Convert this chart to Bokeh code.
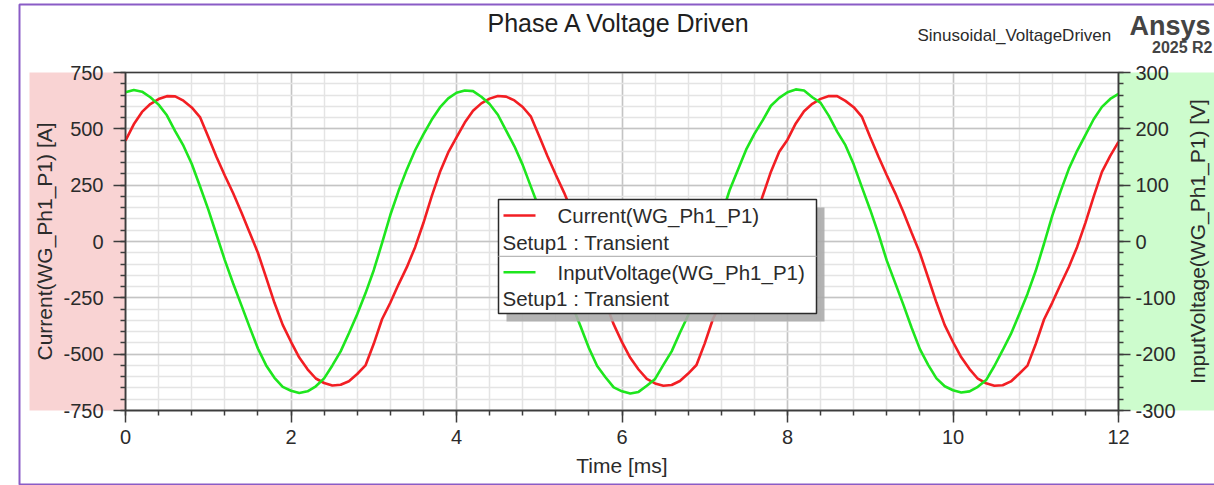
import math
from bokeh.plotting import figure
from bokeh.models import (Range1d, LinearAxis, SingleIntervalTicker, BoxAnnotation,
                          Label, ColumnDataSource, PrintfTickFormatter, Grid)
from bokeh.embed import file_html
from bokeh.resources import INLINE

# ---------------- data ----------------
time_ms = [0.0, 0.1, 0.2, 0.3, 0.4, 0.5, 0.6, 0.7, 0.8, 0.9,
           1.0, 1.1, 1.2, 1.3, 1.4, 1.5, 1.6, 1.7, 1.8, 1.9,
           2.0, 2.1, 2.2, 2.3, 2.4, 2.5, 2.6, 2.7, 2.8, 2.9,
           3.0, 3.1, 3.2, 3.3, 3.4, 3.5, 3.6, 3.7, 3.8, 3.9,
           4.0, 4.1, 4.2, 4.3, 4.4, 4.5, 4.6, 4.7, 4.8, 4.9,
           5.0, 5.1, 5.2, 5.3, 5.4, 5.5, 5.6, 5.7, 5.8, 5.9,
           6.0, 6.1, 6.2, 6.3, 6.4, 6.5, 6.6, 6.7, 6.8, 6.9,
           7.0, 7.1, 7.2, 7.3, 7.4, 7.5, 7.6, 7.7, 7.8, 7.9,
           8.0, 8.1, 8.2, 8.3, 8.4, 8.5, 8.6, 8.7, 8.8, 8.9,
           9.0, 9.1, 9.2, 9.3, 9.4, 9.5, 9.6, 9.7, 9.8, 9.9,
           10.0, 10.1, 10.2, 10.3, 10.4, 10.5, 10.6, 10.7, 10.8, 10.9,
           11.0, 11.1, 11.2, 11.3, 11.4, 11.5, 11.6, 11.7, 11.8, 11.9,
           12.0]

current_A = [448, 520, 575, 610, 632, 645, 644, 625, 595, 552,
             465, 375, 293, 215, 130, 40, -50, -160, -272, -370,
             -445, -515, -567, -608, -628, -639, -636, -620, -588, -550,
             -454, -345, -272, -190, -114, -25, 82, 200, 308, 395,
             462, 528, 580, 613, 634, 646, 643, 626, 597, 554,
             467, 378, 296, 217, 128, 42, -48, -158, -270, -368,
             -447, -516, -568, -610, -630, -640, -637, -619, -586, -548,
             -452, -343, -270, -188, -112, -23, 85, 202, 310, 398,
             452, 524, 578, 611, 633, 646, 645, 624, 596, 553,
             463, 376, 294, 216, 131, 39, -51, -161, -271, -371,
             -446, -514, -566, -609, -629, -640, -638, -621, -587, -551,
             -455, -346, -271, -191, -113, -24, 83, 199, 309, 380,
             442]

voltage_V = [265, 269, 266, 256, 243, 224, 196, 170, 138, 98,
             57, 12, -33, -74, -113, -152, -190, -220, -242, -258,
             -265, -269, -266, -257, -243, -220, -195, -163, -129, -92,
             -51, -3, 47, 90, 128, 162, 190, 216, 238, 254,
             264, 268, 267, 257, 244, 225, 197, 169, 136, 97,
             58, 11, -32, -75, -114, -151, -189, -221, -241, -259,
             -266, -270, -267, -256, -244, -219, -195, -162, -131, -91,
             -50, -2, 45, 91, 127, 163, 191, 215, 241, 255,
             265, 270, 268, 256, 246, 223, 195, 171, 137, 96,
             56, 13, -34, -73, -112, -153, -191, -219, -243, -257,
             -264, -268, -266, -258, -246, -221, -193, -164, -129, -93,
             -52, -4, 46, 89, 129, 161, 189, 217, 239, 253,
             262]

title_text = "Phase A Voltage Driven"
design_text = "Sinusoidal_VoltageDriven"
brand_text = "Ansys"
version_text = "2025 R2"
x_label = "Time [ms]"
y_label = "Current(WG_Ph1_P1) [A]"
y2_label = "InputVoltage(WG_Ph1_P1) [V]"
series_names = ["Current(WG_Ph1_P1)", "InputVoltage(WG_Ph1_P1)"]
setup_name = "Setup1 : Transient"

X_MIN, X_MAX = 0, 12
Y_MIN, Y_MAX = -750, 750
V_MIN, V_MAX = -300, 300

# ---------------- layout (page pixels) ----------------
W, H = 1214, 485
FL, FR, FT, FB = 125, 1118, 72, 410   # plot-area edges in page pixels


def dx(px):
    return X_MIN + (px - FL) / (FR - FL) * (X_MAX - X_MIN)


def dy(py):
    return Y_MAX - (py - FT) / (FB - FT) * (Y_MAX - Y_MIN)


def dv(py):
    return V_MAX - (py - FT) / (FB - FT) * (V_MAX - V_MIN)


FONT = "Liberation Sans"
TXT = "#2b2b2b"
AX = "#3c3c3c"
RED = "#f21e23"
GREEN = "#1ee61e"

p = figure(width=W, height=H, output_backend="svg", toolbar_location=None,
           title=None, min_border=0,
           x_range=Range1d(dx(0), dx(W)), y_range=Range1d(dy(H), dy(0)))
p.extra_y_ranges = {"v": Range1d(dv(H), dv(0))}
p.background_fill_color = "white"
p.border_fill_color = "white"
p.outline_line_color = None

# side backgrounds and page frame
p.add_layout(BoxAnnotation(left=dx(29), right=X_MIN, top=Y_MAX, bottom=Y_MIN,
                           fill_color="#f9d3d3", fill_alpha=1, line_alpha=0,
                           level="underlay"))
p.add_layout(BoxAnnotation(left=X_MAX, right=dx(W + 20), top=Y_MAX, bottom=Y_MIN,
                           fill_color="#cdfccd", fill_alpha=1, line_alpha=0,
                           level="underlay"))
p.add_layout(BoxAnnotation(left=dx(19), right=dx(W + 40), top=dy(4), bottom=dy(484),
                           fill_alpha=0, line_color="#8a5cc6", line_alpha=1,
                           line_width=2, level="underlay"))

# tickers
xt = SingleIntervalTicker(interval=2, num_minor_ticks=5)
yt = SingleIntervalTicker(interval=250, num_minor_ticks=5)
vt = SingleIntervalTicker(interval=100, num_minor_ticks=5)

# grids
p.xgrid.ticker = xt
p.ygrid.ticker = yt
p.xgrid.bounds = (X_MIN, X_MAX)
p.ygrid.bounds = (Y_MIN, Y_MAX)
if "cross_bounds" in Grid.properties():
    p.xgrid.cross_bounds = (Y_MIN, Y_MAX)
    p.ygrid.cross_bounds = (X_MIN, X_MAX)
for g in [p.xgrid[0], p.ygrid[0]]:
    g.grid_line_color = "#c4c4c4"
    g.grid_line_width = 1.5
    g.minor_grid_line_color = "#e4e4e4"
    g.minor_grid_line_width = 1.5

# plot-area outline
p.add_layout(BoxAnnotation(left=X_MIN, right=X_MAX, top=Y_MAX, bottom=Y_MIN,
                           fill_alpha=0, line_color=AX, line_alpha=1, line_width=1.5,
                           level="underlay"))

# axes (fixed at the plot-area edges)
xaxis = p.xaxis[0]
yaxis = p.yaxis[0]
xaxis.ticker = xt
yaxis.ticker = yt
xaxis.fixed_location = Y_MIN
yaxis.fixed_location = X_MIN
xaxis.bounds = (X_MIN, X_MAX)
yaxis.bounds = (Y_MIN, Y_MAX)
xaxis.axis_label = x_label
yaxis.axis_label = y_label

raxis = LinearAxis(y_range_name="v", ticker=vt, fixed_location=X_MAX,
                   bounds=(V_MIN, V_MAX))
p.add_layout(raxis, "right")

for ax in [xaxis, yaxis, raxis]:
    ax.formatter = PrintfTickFormatter(format="%d")
    ax.axis_line_color = AX
    ax.axis_line_width = 1.5
    ax.major_tick_line_color = AX
    ax.major_tick_line_width = 1.5
    ax.major_tick_out = 12
    ax.major_tick_in = 0
    ax.minor_tick_line_color = AX
    ax.minor_tick_line_width = 1.5
    ax.minor_tick_out = 5
    ax.minor_tick_in = 0
    ax.major_label_text_font = FONT
    ax.major_label_text_font_size = "20px"
    ax.major_label_text_color = TXT
    ax.axis_label_text_font = FONT
    ax.axis_label_text_font_size = "21px"
    ax.axis_label_text_font_style = "normal"
    ax.axis_label_text_color = TXT

xaxis.major_label_standoff = 7
xaxis.axis_label_standoff = 7
yaxis.major_label_standoff = 10
yaxis.axis_label_standoff = 4
raxis.major_label_standoff = 5

# right axis title (reads bottom-to-top as in the reference)
p.add_layout(Label(x=dx(1197), y=dy((FT + FB) / 2), text=y2_label, angle=math.pi / 2,
                   text_align="center", text_baseline="middle", text_font=FONT,
                   text_font_size="21px", text_color=TXT))

# series
src = ColumnDataSource(dict(t=time_ms, i=current_A, v=voltage_V))
p.line("t", "i", source=src, color=RED, line_width=2.6)
p.line("t", "v", source=src, y_range_name="v", color=GREEN, line_width=2.6)

# legend (two-line entries, shadowed box)
p.add_layout(BoxAnnotation(left=dx(506), right=dx(824), top=dy(207), bottom=dy(321),
                           fill_color="#ababab", fill_alpha=0.9, line_alpha=0))
p.add_layout(BoxAnnotation(left=dx(498), right=dx(816), top=dy(199), bottom=dy(313),
                           fill_color="white", fill_alpha=1, line_color="#2a2a2a",
                           line_alpha=1, line_width=1.5))
p.add_layout(BoxAnnotation(left=dx(498), right=dx(816), top=dy(255.3), bottom=dy(256.5),
                           fill_color="#b8b8b8", fill_alpha=1, line_alpha=0))
for yc, col, name in [(215, RED, series_names[0]), (271.7, GREEN, series_names[1])]:
    p.add_layout(BoxAnnotation(left=dx(503), right=dx(535), top=dy(yc - 1.3),
                               bottom=dy(yc + 1.3), fill_color=col, fill_alpha=1,
                               line_alpha=0))
    p.add_layout(Label(x=dx(557), y=dy(yc), text=name, text_align="left",
                       text_baseline="middle", text_font=FONT,
                       text_font_size="20.5px", text_color=TXT))
for yc in [241.7, 298]:
    p.add_layout(Label(x=dx(502), y=dy(yc), text=setup_name, text_align="left",
                       text_baseline="middle", text_font=FONT,
                       text_font_size="20.5px", text_color=TXT))

# header texts
p.add_layout(Label(x=dx(619), y=dy(22), text=title_text, text_align="center",
                   text_baseline="middle", text_font=FONT, text_font_size="25px",
                   text_color="#202020"))
p.add_layout(Label(x=dx(917), y=dy(35), text=design_text, text_align="left",
                   text_baseline="middle", text_font=FONT, text_font_size="17px",
                   text_color=TXT))
p.add_layout(Label(x=dx(1210), y=dy(25), text=brand_text, text_align="right",
                   text_baseline="middle", text_font=FONT, text_font_size="27px",
                   text_font_style="bold", text_color="#444444"))
p.add_layout(Label(x=dx(1212), y=dy(47), text=version_text, text_align="right",
                   text_baseline="middle", text_font=FONT, text_font_size="16px",
                   text_font_style="bold", text_color="#444444"))

open("out.html", "w").write(file_html(p, INLINE))
